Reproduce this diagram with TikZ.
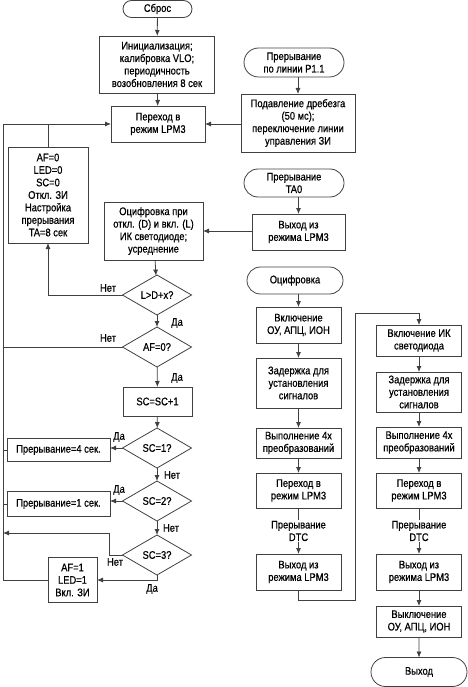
\documentclass[tikz,border=0pt]{standalone}
\usepackage{fontspec}
\setmainfont[FakeStretch=0.85,FakeBold=0.6]{Liberation Sans}
\usetikzlibrary{shapes.geometric}
\usetikzlibrary{shapes.misc}
\usetikzlibrary{arrows.meta}
\usetikzlibrary{positioning}
\tikzset{every node/.style={inner sep=0pt, outer sep=0pt, font=\fontsize{11}{12.5}\selectfont}}
\tikzset{block/.style={rectangle, draw=black!75, line width=0.8pt, align=center, minimum width=85pt}}
\tikzset{term/.style={rounded rectangle, draw=black!75, line width=0.8pt, align=center}}
\tikzset{decision/.style={diamond, aspect=1.7, draw=black!75, line width=0.8pt, minimum width=69pt, minimum height=40pt}}
\tikzset{flow/.style={draw=black!75, line width=0.8pt, -{Latex[length=6pt,width=5pt]}}}
\tikzset{wire/.style={draw=black!75, line width=0.8pt}}
\tikzset{tag/.style={align=center}}

\begin{document}
\begin{tikzpicture}[x=1pt,y=1pt]
    \useasboundingbox (0,0) rectangle (467,-687);

    % main loop
    \node[term,minimum width=69pt,minimum height=17pt] (Reset) at (157.5,-9) {Сброс};
    \node[block,minimum width=115pt,minimum height=57pt] (Init) at (157,-64.5) {Инициализация;\\калибровка VLO;\\периодичность\\возобновления 8 сек};
    \node[block,minimum width=94pt,minimum height=36pt] (Sleep) at (158,-124) {Переход в\\режим LPM3};
    \node[block,minimum width=80pt,minimum height=96pt] (FlagsOff) at (48,-195) {AF=0\\LED=0\\SC=0\\Откл. ЗИ\\Настройка\\прерывания\\TA=8 сек};
    \node[block,minimum width=99pt,minimum height=58pt] (Measure) at (153.5,-231) {Оцифровка при\\откл. (D) и вкл. (L)\\ИК светодиоде;\\усреднение};
    \node[decision] (CheckL) at (157,-295) {L>D+x?};
    \node[decision] (CheckAF) at (157,-347) {AF=0?};
    \node[block,minimum width=69pt,minimum height=29pt] (IncSC) at (157.5,-401.5) {SC=SC+1};
    \node[decision] (CheckSC1) at (157,-448) {SC=1?};
    \node[block,minimum width=103pt,minimum height=23pt] (Int4) at (58.5,-450) {Прерывание=4 сек.};
    \node[decision] (CheckSC2) at (157,-501) {SC=2?};
    \node[block,minimum width=103pt,minimum height=25pt] (Int1) at (58.5,-504) {Прерывание=1 сек.};
    \node[decision] (CheckSC3) at (157,-555) {SC=3?};
    \node[block,minimum width=49pt,minimum height=45pt] (FlagsOn) at (72.5,-580) {AF=1\\LED=1\\Вкл. ЗИ};

    \coordinate (BusTop) at (3,-124);
    \coordinate (BusEnd) at (3,-580);
    \coordinate (BusNo) at (3,-533);

    \node[tag] (NoL) at (108,-288) {Нет};
    \node[tag] (YesL) at (177,-323) {Да};
    \node[tag] (NoAF) at (108,-338) {Нет};
    \node[tag] (YesAF) at (177,-378) {Да};
    \node[tag] (YesSC1) at (119,-437) {Да};
    \node[tag] (NoSC1) at (172,-475) {Нет};
    \node[tag] (YesSC2) at (119,-490) {Да};
    \node[tag] (NoSC2) at (171,-528) {Нет};
    \node[tag] (NoSC3) at (115,-562) {Нет};
    \node[tag] (YesSC3) at (152,-589) {Да};

    \draw[flow] (Reset) -- (Init);
    \draw[flow] (Init) -- (Sleep);
    \draw[wire] (BusEnd) -- (BusTop);
    \draw[flow] (BusTop) -- (Sleep.west);
    \draw[wire] (FlagsOff.north) -- (FlagsOff.north |- BusTop);
    \draw[flow] (Measure) -- (CheckL);
    \draw[flow] (CheckL.west) -| (FlagsOff.south);
    \draw[flow] (CheckL) -- (CheckAF);
    \draw[wire] (CheckAF.west) -- (CheckAF.west -| BusTop);
    \draw[flow] (CheckAF) -- (IncSC);
    \draw[flow] (IncSC) -- (CheckSC1);
    \draw[flow] (CheckSC1.west) -- (CheckSC1.west -| Int4.east);
    \draw[wire] (Int4.west) -- (Int4.west -| BusTop);
    \draw[flow] (CheckSC1) -- (CheckSC2);
    \draw[flow] (CheckSC2.west) -- (CheckSC2.west -| Int1.east);
    \draw[wire] (Int1.west) -- (Int1.west -| BusTop);
    \draw[flow] (CheckSC2) -- (CheckSC3);
    \draw[flow] (CheckSC3.west) -- ++(-13,0) |- (BusNo);
    \draw[flow] (CheckSC3.south) |- (FlagsOn.east);
    \draw[wire] (FlagsOn.west) -- (BusEnd);

    % interrupts
    \node[term,minimum width=100pt,minimum height=29pt] (IntP11) at (294,-62.5) {Прерывание\\по линии P1.1};
    \node[block,minimum width=114pt,minimum height=58pt] (Debounce) at (298,-123) {Подавление дребезга\\(50 мс);\\переключение линии\\управления ЗИ};
    \node[term,minimum width=100pt,minimum height=28pt] (IntTA) at (294,-183) {Прерывание\\TA0};
    \node[block,minimum width=93pt,minimum height=36pt] (WakeTA) at (298.5,-232) {Выход из\\режима LPM3};

    \draw[flow] (IntP11.south -| Debounce.north) -- (Debounce.north);
    \draw[flow] (Debounce.west |- Sleep.east) -- (Sleep.east);
    \draw[flow] (IntTA.south -| WakeTA.north) -- (WakeTA.north);
    \draw[flow] (WakeTA.west |- Measure.east) -- (Measure.east);

    % digitising
    \node[term,minimum width=96pt,minimum height=27pt] (Digit) at (295,-280.5) {Оцифровка};
    \node[block,minimum height=36pt] (PowerOn) at (298.5,-325) {Включение\\ОУ, АПЦ, ИОН};
    \node[block,minimum height=50pt] (DelayA) at (298.5,-383) {Задержка для\\установления\\сигналов};
    \node[block,minimum height=30pt] (ConvA) at (298.5,-443) {Выполнение 4х\\преобразований};
    \node[block,minimum height=35pt] (SleepA) at (298.5,-490.5) {Переход в\\режим LPM3};
    \node[block,minimum height=36pt] (WakeA) at (298.5,-572) {Выход из\\режима LPM3};

    \node[block,minimum height=31pt] (LedOn) at (419,-340.5) {Включение ИК\\светодиода};
    \node[block,minimum height=40pt] (DelayB) at (419,-392) {Задержка для\\установления\\сигналов};
    \node[block,minimum height=31pt] (ConvB) at (419,-442.5) {Выполнение 4х\\преобразований};
    \node[block,minimum height=35pt] (SleepB) at (419,-490.5) {Переход в\\режим LPM3};
    \node[block,minimum height=36pt] (WakeB) at (419,-572) {Выход из\\режима LPM3};
    \node[block,minimum height=31pt] (PowerOff) at (419,-621.5) {Выключение\\ОУ, АПЦ, ИОН};
    \node[term,minimum width=96pt,minimum height=29pt] (Exit) at (419,-672) {Выход};

    \coordinate (LoopA) at (355,-600);
    \coordinate (LoopB) at (355,-313);

    \draw[flow] (Digit.south -| PowerOn.north) -- (PowerOn.north);
    \draw[flow] (PowerOn) -- (DelayA);
    \draw[flow] (DelayA) -- (ConvA);
    \draw[flow] (ConvA) -- (SleepA);
    \draw[flow] (SleepA) -- node[tag,fill=white,inner sep=1pt] (DtcA) {Прерывание\\DTC} (WakeA);
    \draw[flow] (WakeA.south) |- (LoopA) -- (LoopB) -| (LedOn.north);
    \draw[flow] (LedOn) -- (DelayB);
    \draw[flow] (DelayB) -- (ConvB);
    \draw[flow] (ConvB) -- (SleepB);
    \draw[flow] (SleepB) -- node[tag,fill=white,inner sep=1pt] (DtcB) {Прерывание\\DTC} (WakeB);
    \draw[flow] (WakeB) -- (PowerOff);
    \draw[flow] (PowerOff) -- (Exit);

\end{tikzpicture}
\end{document}
